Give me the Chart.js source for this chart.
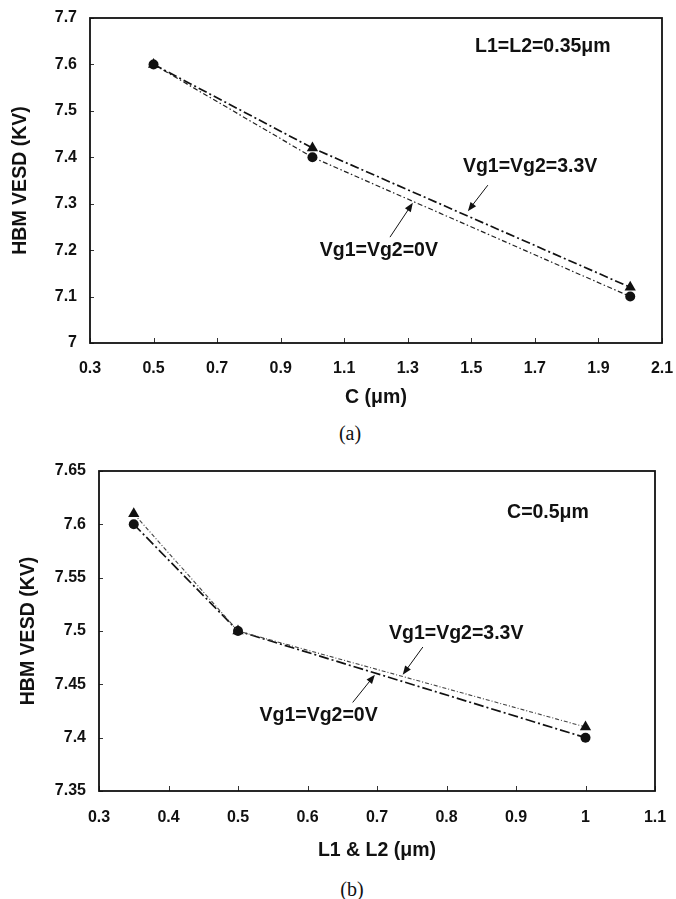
<!DOCTYPE html>
<html>
<head>
<meta charset="utf-8">
<script src="https://cdn.jsdelivr.net/npm/chart.js@4/dist/chart.umd.min.js"></script>
<style>
  body { margin: 0; background: #fff; width: 676px; height: 899px; position: relative; overflow: hidden; }
  canvas { position: absolute; left: 0; }
  #chart-a { top: 0; }
  #chart-b { top: 440px; }
  .caption { position: absolute; font-family: "Liberation Serif", "Times New Roman", serif; font-size: 20px; color: #111; transform: translate(-50%, -50%); }
</style>
</head>
<body>
<canvas id="chart-a" width="676" height="410"></canvas>
<div class="caption" style="left:350px; top:433px;">(a)</div>
<canvas id="chart-b" width="676" height="423"></canvas>
<div class="caption" style="left:352px; top:889px;">(b)</div>
<script>
// (a) HBM VESD vs C, L1=L2=0.35um
const sizeC = [0.5, 1.0, 2.0];
const vesdC0V = [7.6, 7.4, 7.1];
const vesdC33V = [7.6, 7.42, 7.12];
const xTicksC = [0.3, 0.5, 0.7, 0.9, 1.1, 1.3, 1.5, 1.7, 1.9, 2.1];
const yTicksC = [7, 7.1, 7.2, 7.3, 7.4, 7.5, 7.6, 7.7];

// (b) HBM VESD vs L1 & L2, C=0.5um
const sizeL = [0.35, 0.5, 1.0];
const vesdL0V = [7.6, 7.5, 7.4];
const vesdL33V = [7.61, 7.5, 7.41];
const xTicksL = [0.3, 0.4, 0.5, 0.6, 0.7, 0.8, 0.9, 1, 1.1];
const yTicksL = [7.35, 7.4, 7.45, 7.5, 7.55, 7.6, 7.65];

const fontFamily = "'Liberation Sans', Arial, sans-serif";
const ink = "#111";

Chart.defaults.font.family = fontFamily;
Chart.defaults.color = ink;

const fmt = (v) => Number(v.toFixed(2)).toString();

function drawArrow(ctx, x1, y1, x2, y2) {
  const ang = Math.atan2(y2 - y1, x2 - x1);
  ctx.beginPath();
  ctx.moveTo(x1, y1);
  ctx.lineTo(x2 - 6 * Math.cos(ang), y2 - 6 * Math.sin(ang));
  ctx.stroke();
  ctx.beginPath();
  ctx.moveTo(x2, y2);
  ctx.lineTo(x2 - 9 * Math.cos(ang) + 3.5 * Math.sin(ang), y2 - 9 * Math.sin(ang) - 3.5 * Math.cos(ang));
  ctx.lineTo(x2 - 9 * Math.cos(ang) - 3.5 * Math.sin(ang), y2 - 9 * Math.sin(ang) + 3.5 * Math.cos(ang));
  ctx.closePath();
  ctx.fill();
}

// frame, inward tick marks and the text notes with arrows
const decorPlugin = {
  id: "decor",
  afterDatasetsDraw(chart, args, opts) {
    const { ctx, chartArea: a, scales: { x, y } } = chart;
    ctx.save();
    ctx.strokeStyle = "#333";
    ctx.lineWidth = 1;
    for (const t of x.ticks) {
      const px = Math.round(x.getPixelForValue(t.value)) + 0.5;
      ctx.beginPath();
      ctx.moveTo(px, a.bottom);
      ctx.lineTo(px, a.bottom - 5);
      ctx.stroke();
    }
    for (const t of y.ticks) {
      const py = Math.round(y.getPixelForValue(t.value)) + 0.5;
      ctx.beginPath();
      ctx.moveTo(a.left, py);
      ctx.lineTo(a.left + 4, py);
      ctx.stroke();
    }
    ctx.strokeStyle = ink;
    ctx.lineWidth = 1.8;
    ctx.strokeRect(a.left, a.top, a.width, a.height);

    ctx.fillStyle = ink;
    ctx.font = `bold 19.5px ${fontFamily}`;
    ctx.textAlign = "center";
    ctx.textBaseline = "middle";
    for (const n of opts.notes) {
      ctx.fillText(n.text, x.getPixelForValue(n.x), y.getPixelForValue(n.y));
    }
    ctx.lineWidth = 1;
    for (const ar of opts.arrows) {
      drawArrow(ctx,
        x.getPixelForValue(ar.from[0]), y.getPixelForValue(ar.from[1]),
        x.getPixelForValue(ar.to[0]), y.getPixelForValue(ar.to[1]));
    }
    ctx.restore();
  },
};

function makeChart(canvasId, cfg) {
  const canvas = document.getElementById(canvasId);
  const points = (xs, ys) => xs.map((v, i) => ({ x: v, y: ys[i] }));
  return new Chart(canvas, {
    type: "scatter",
    data: {
      datasets: [
        {
          label: "Vg1=Vg2=3.3V",
          data: points(cfg.xs, cfg.y33),
          showLine: true,
          borderColor: cfg.style33.color,
          borderWidth: cfg.style33.width,
          borderDash: cfg.style33.dash,
          pointStyle: "triangle",
          pointRadius: 6.5,
          pointBackgroundColor: ink,
          pointBorderWidth: 0,
        },
        {
          label: "Vg1=Vg2=0V",
          data: points(cfg.xs, cfg.y0),
          showLine: true,
          borderColor: cfg.style0.color,
          borderWidth: cfg.style0.width,
          borderDash: cfg.style0.dash,
          pointStyle: "circle",
          pointRadius: 5,
          pointBackgroundColor: ink,
          pointBorderWidth: 0,
        },
      ],
    },
    options: {
      responsive: false,
      animation: false,
      layout: { autoPadding: false, padding: cfg.padding },
      plugins: {
        legend: { display: false },
        tooltip: { enabled: false },
        decor: { notes: cfg.notes, arrows: cfg.arrows },
      },
      scales: {
        x: {
          type: "linear",
          min: cfg.xTicks[0],
          max: cfg.xTicks[cfg.xTicks.length - 1],
          afterBuildTicks: (s) => { s.ticks = cfg.xTicks.map((v) => ({ value: v })); },
          afterFit: (s) => {
            s.height = cfg.xAxisHeight;
            s.paddingLeft = 0;
            s.paddingRight = 0;
          },
          grid: { display: false, drawTicks: false },
          border: { display: false },
          ticks: {
            padding: cfg.xTickPad,
            autoSkip: false,
            maxRotation: 0,
            font: { size: 16, weight: "bold" },
            callback: (v) => fmt(v),
          },
          title: {
            display: true,
            text: cfg.xTitle,
            font: { size: 19.5, weight: "bold" },
            padding: { top: 0, bottom: 1 },
          },
        },
        y: {
          type: "linear",
          min: cfg.yTicks[0],
          max: cfg.yTicks[cfg.yTicks.length - 1],
          afterBuildTicks: (s) => { s.ticks = cfg.yTicks.map((v) => ({ value: v })); },
          afterFit: (s) => {
            s.width = cfg.yAxisWidth;
            s.paddingTop = 0;
            s.paddingBottom = 0;
          },
          grid: { display: false, drawTicks: false },
          border: { display: false },
          ticks: {
            padding: 13,
            autoSkip: false,
            font: { size: 16, weight: "bold" },
            callback: (v) => fmt(v),
          },
          title: {
            display: true,
            text: "HBM VESD (KV)",
            font: { size: 19.5, weight: "bold" },
            padding: { top: cfg.yTitlePad, bottom: 0 },
          },
        },
      },
    },
    plugins: [decorPlugin],
  });
}

makeChart("chart-a", {
  xs: sizeC,
  y0: vesdC0V,
  y33: vesdC33V,
  xTicks: xTicksC,
  yTicks: yTicksC,
  xTitle: "C (μm)",
  padding: { top: 18, right: 14, left: 0, bottom: 0 },
  xAxisHeight: 67,
  yAxisWidth: 90,
  xTickPad: 16,
  yTitlePad: 9,
  style33: { color: "#111", width: 1.7, dash: [9, 3, 2, 3] },
  style0: { color: "#222", width: 1.2, dash: [5, 2.5, 1.5, 2.5] },
  notes: [
    { text: "L1=L2=0.35μm", x: 1.725, y: 7.6375 },
    { text: "Vg1=Vg2=3.3V", x: 1.685, y: 7.379 },
    { text: "Vg1=Vg2=0V", x: 1.209, y: 7.2 },
  ],
  arrows: [
    { from: [1.552, 7.34], to: [1.489, 7.284] },
    { from: [1.244, 7.228], to: [1.316, 7.302] },
  ],
});

makeChart("chart-b", {
  xs: sizeL,
  y0: vesdL0V,
  y33: vesdL33V,
  xTicks: xTicksL,
  yTicks: yTicksL,
  xTitle: "L1 & L2 (μm)",
  padding: { top: 31, right: 21, left: 0, bottom: 0 },
  xAxisHeight: 72,
  yAxisWidth: 99,
  xTickPad: 17,
  yTitlePad: 17,
  style33: { color: "#444", width: 1.1, dash: [4, 2, 1, 2] },
  style0: { color: "#111", width: 1.7, dash: [10, 3, 2, 3] },
  notes: [
    { text: "C=0.5μm", x: 0.946, y: 7.6106 },
    { text: "Vg1=Vg2=3.3V", x: 0.814, y: 7.498 },
    { text: "Vg1=Vg2=0V", x: 0.616, y: 7.421 },
  ],
  arrows: [
    { from: [0.766, 7.485], to: [0.737, 7.459] },
    { from: [0.665, 7.433], to: [0.697, 7.459] },
  ],
});
</script>
</body>
</html>
